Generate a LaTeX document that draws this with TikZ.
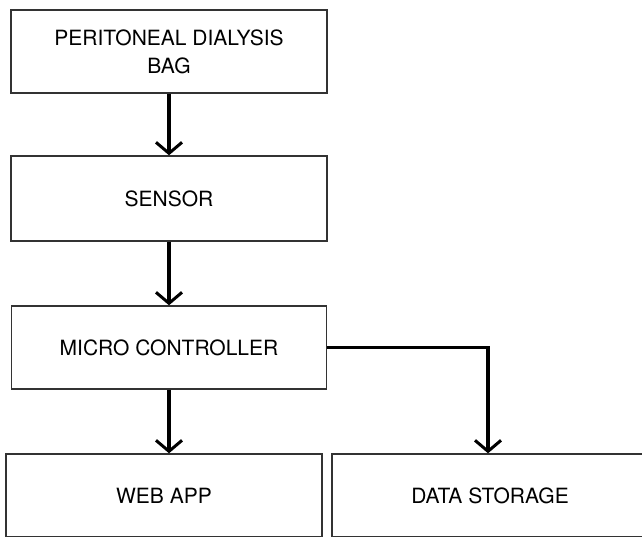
\documentclass[tikz,border=0pt]{standalone}
\usepackage{fontspec}
\setmainfont{TeX Gyre Heros}
\usetikzlibrary{positioning}
\usetikzlibrary{arrows.meta}

\begin{document}
\begin{tikzpicture}[
  x=1pt, y=-1pt,
  block/.style={draw=black!80, line width=1.4pt, minimum height=83pt,
    inner sep=0pt, align=center, font=\fontsize{21}{28}\selectfont},
  flow/.style={line width=3.2pt,
    -{Straight Barb[length=11pt,width=26pt,line width=3pt]}}
]
\useasboundingbox (0,0) rectangle (642,537);
\clip (0,0) rectangle (642,537);

\node[block, minimum width=316pt] (bag) at (169,51.5) {PERITONEAL DIALYSIS\\BAG};
\node[block, minimum width=316pt, minimum height=85pt] (sensor) at (169,198.5) {SENSOR};
\node[block, minimum width=315pt] (mcu) at (169,347.5) {MICRO CONTROLLER};

\node[block, minimum width=316pt] (web) at (164,495.5) {WEB APP};
\node[block, minimum width=316pt] (store) at (490,495.5) {DATA STORAGE};

\draw[flow] (bag) -- (sensor);
\draw[flow] (sensor) -- (mcu);
\draw[flow] (mcu) -- (mcu |- web.north);
\draw[flow] (mcu.east) -| (store.north -| 488,0);

\end{tikzpicture}
\end{document}
